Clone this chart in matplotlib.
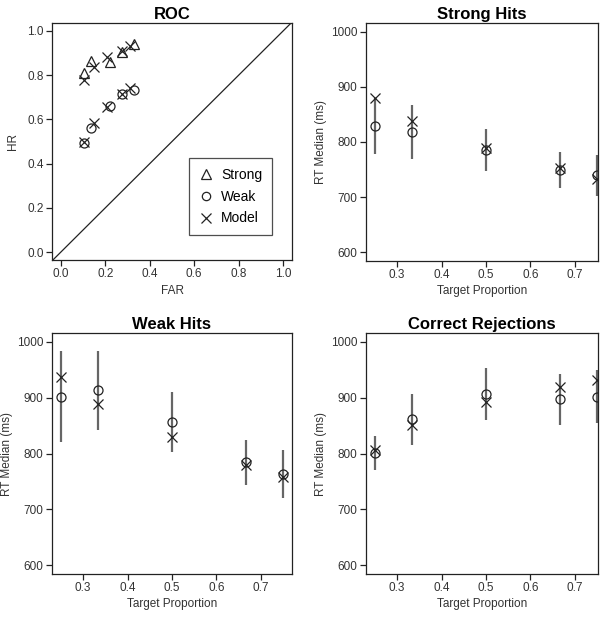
import numpy as np
import matplotlib
matplotlib.use("Agg")
import matplotlib.pyplot as plt
from matplotlib.lines import Line2D

plt.rcParams['font.family'] = ['Liberation Sans', 'DejaVu Sans']

# ROC data
far_data = [0.105, 0.137, 0.222, 0.276, 0.327]
hr_strong = [0.809, 0.862, 0.860, 0.904, 0.941]
hr_weak = [0.495, 0.560, 0.661, 0.714, 0.733]
far_model = [0.102, 0.149, 0.208, 0.277, 0.313]
hr_model_strong = [0.779, 0.839, 0.881, 0.911, 0.934]
hr_model_weak = [0.500, 0.583, 0.655, 0.714, 0.741]

# RT panels
target_prop = [0.25, 1/3, 0.5, 2/3, 0.75]

strong_data = [829, 819, 786, 749, 740]
strong_model = [880, 838, 790, 752, 732]
strong_lo = [779, 770, 747, 717, 702]
strong_hi = [879, 867, 824, 782, 776]

weak_data = [901, 913, 856, 784, 764]
weak_model = [938, 889, 829, 780, 757]
weak_lo = [820, 842, 802, 743, 720]
weak_hi = [983, 984, 910, 824, 807]

cr_data = [801, 862, 907, 898, 902]
cr_model = [806, 851, 893, 919, 931]
cr_lo = [770, 816, 860, 851, 854]
cr_hi = [831, 907, 954, 943, 950]

W, H = 612, 620
fig = plt.figure(figsize=(W / 100, H / 100), dpi=100)

FS = 8.5


def make_ax(l, r, t, b):
    return fig.add_axes([l / W, 1 - b / H, (r - l) / W, (b - t) / H])


def style(ax):
    ax.tick_params(direction='out', length=4.5, width=0.9, labelsize=FS,
                   pad=1.5, colors='#222222', labelcolor='#333333')
    for s in ax.spines.values():
        s.set_linewidth(0.9)
        s.set_color('#222222')


mk = dict(linestyle='none', color='#222222', markerfacecolor='none',
          markeredgewidth=0.9)

# ROC
ax = make_ax(52, 292, 23, 260)
ax.plot([-0.04, 1.04], [-0.04, 1.04], color='#222222', lw=0.9)
ax.plot(far_data, hr_strong, marker='^', markersize=7, **mk)
ax.plot(far_data, hr_weak, marker='o', markersize=6.5, **mk)
ax.plot(far_model, hr_model_strong, marker='x', markersize=7, **mk)
ax.plot(far_model, hr_model_weak, marker='x', markersize=7, **mk)
ax.set_xlim(-0.04, 1.04)
ax.set_ylim(-0.036, 1.036)
ax.set_xticks(np.arange(0, 1.01, 0.2))
ax.set_yticks(np.arange(0, 1.01, 0.2))
ax.set_xticklabels(['%.1f' % v for v in np.arange(0, 1.01, 0.2)])
ax.set_yticklabels(['%.1f' % v for v in np.arange(0, 1.01, 0.2)])
ax.set_xlabel('FAR', fontsize=FS, color='#333333', labelpad=3)
ax.set_ylabel('HR', fontsize=FS, color='#333333', labelpad=6)
ax.set_title('ROC', fontsize=12, fontweight='bold', pad=3)
style(ax)
handles = [Line2D([], [], marker='^', markersize=7, **mk),
           Line2D([], [], marker='o', markersize=6, **mk),
           Line2D([], [], marker='x', markersize=7, **mk)]
leg = ax.legend(handles, ['Strong', 'Weak', 'Model'], loc='lower right',
                bbox_to_anchor=(0.917, 0.105), fontsize=10, frameon=True,
                fancybox=False, edgecolor='#222222', handlelength=1.0,
                handletextpad=0.6, borderpad=0.7, labelspacing=0.55,
                borderaxespad=0)
leg.get_frame().set_linewidth(0.9)


def rt_panel(l, r, t, b, title, data, model, lo, hi, xmax):
    ax = make_ax(l, r, t, b)
    ax.vlines(target_prop, lo, hi, color='#666666', lw=1.6, zorder=1)
    ax.plot(target_prop, data, marker='o', markersize=6.5, zorder=3, **mk)
    ax.plot(target_prop, model, marker='x', markersize=7.5, zorder=3, **mk)
    ax.set_xlim(0.23, xmax)
    ax.set_ylim(584, 1016)
    ax.set_xticks([0.3, 0.4, 0.5, 0.6, 0.7])
    ax.set_yticks([600, 700, 800, 900, 1000])
    ax.set_xlabel('Target Proportion', fontsize=FS, color='#333333', labelpad=3)
    ax.set_ylabel('RT Median (ms)', fontsize=FS, color='#333333', labelpad=3)
    ax.set_title(title, fontsize=12, fontweight='bold', pad=3)
    style(ax)
    return ax


rt_panel(366, 598, 23, 261, 'Strong Hits', strong_data, strong_model,
         strong_lo, strong_hi, 0.752)
rt_panel(52, 292, 333, 574, 'Weak Hits', weak_data, weak_model,
         weak_lo, weak_hi, 0.77)
rt_panel(366, 598, 333, 574, 'Correct Rejections', cr_data, cr_model,
         cr_lo, cr_hi, 0.752)

fig.savefig('out.png', dpi=100)
